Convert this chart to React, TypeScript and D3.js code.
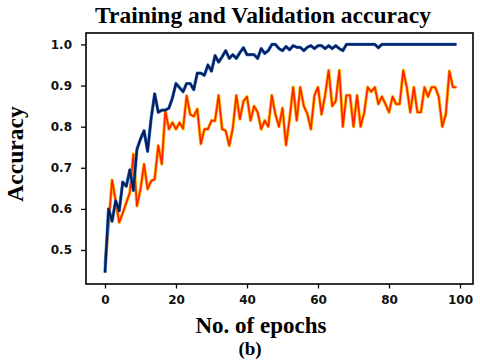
import * as d3 from "d3";
import React, { useEffect, useRef } from "react";

// training accuracy per epoch (0..99)
const trainAcc = [
  0.445, 0.6, 0.57, 0.62, 0.595, 0.665, 0.655, 0.695, 0.645, 0.745,
  0.77, 0.79, 0.74, 0.82, 0.88, 0.835, 0.84, 0.84, 0.845, 0.87,
  0.905, 0.895, 0.885, 0.905, 0.905, 0.89, 0.93, 0.93, 0.925, 0.95,
  0.935, 0.973, 0.957, 0.97, 0.985, 0.966, 0.975, 0.966, 0.98, 0.992,
  0.975, 0.975, 0.975, 0.966, 0.99, 0.978, 0.985, 1.0, 1.0, 0.99,
  0.985, 0.995, 0.987, 0.997, 0.993, 0.993, 0.985, 0.993, 0.997, 0.99,
  0.997, 0.997, 0.99, 0.997, 0.99, 0.997, 0.99, 0.985, 1.0, 1.0,
  1.0, 1.0, 1.0, 1.0, 1.0, 1.0, 1.0, 0.992, 1.0, 1.0,
  1.0, 1.0, 1.0, 1.0, 1.0, 1.0, 1.0, 1.0, 1.0, 1.0,
  1.0, 1.0, 1.0, 1.0, 1.0, 1.0, 1.0, 1.0, 1.0, 1.0,
];

// validation accuracy per epoch (0..99)
const valAcc = [
  0.465, 0.56, 0.67, 0.62, 0.567, 0.59, 0.615, 0.64, 0.733, 0.607,
  0.648, 0.709, 0.648, 0.668, 0.672, 0.754, 0.709, 0.839, 0.794, 0.81,
  0.794, 0.81, 0.795, 0.875, 0.83, 0.825, 0.843, 0.758, 0.794, 0.794,
  0.815, 0.814, 0.876, 0.794, 0.79, 0.754, 0.796, 0.876, 0.818, 0.862,
  0.873, 0.815, 0.85, 0.835, 0.794, 0.815, 0.8, 0.876, 0.83, 0.8,
  0.845, 0.755, 0.82, 0.896, 0.815, 0.896, 0.85, 0.831, 0.794, 0.876,
  0.896, 0.83, 0.876, 0.937, 0.85, 0.862, 0.937, 0.8, 0.876, 0.876,
  0.8, 0.876, 0.8, 0.834, 0.896, 0.885, 0.896, 0.855, 0.873, 0.855,
  0.835, 0.873, 0.855, 0.855, 0.937, 0.896, 0.835, 0.896, 0.835, 0.835,
  0.896, 0.873, 0.896, 0.896, 0.873, 0.8, 0.83, 0.935, 0.896, 0.896,
];

const xTicks = [0, 20, 40, 60, 80, 100];
const yTicks = [0.5, 0.6, 0.7, 0.8, 0.9, 1.0];

const App = () => {
  const svgRef = useRef<SVGSVGElement>(null);

  useEffect(() => {
    const W = 480,
      H = 363;
    const plot = { left: 86, right: 473, top: 33, bottom: 284 };

    const svg = d3.select(svgRef.current).html("");

    const x = d3.scaleLinear().domain([-5.35, 103.66]).range([plot.left, plot.right]);
    const y = d3.scaleLinear().domain([0.4173, 1.0278]).range([plot.bottom, plot.top]);

    svg.append("rect").attr("width", W).attr("height", H).attr("fill", "#fff");

    const tickFont = "'DejaVu Sans', sans-serif";

    // x axis
    const xAxis = svg
      .append("g")
      .attr("transform", `translate(0,${plot.bottom})`)
      .call(d3.axisBottom(x).tickValues(xTicks).tickSize(4.5).tickPadding(7).tickFormat(d3.format("d")));
    xAxis.select(".domain").remove();
    xAxis.selectAll("line").attr("stroke", "#000").attr("stroke-width", 1.3);
    xAxis
      .selectAll("text")
      .attr("fill", "#111")
      .style("font-family", tickFont)
      .style("font-size", "12px")
      .style("font-weight", "bold");

    // y axis
    const yAxis = svg
      .append("g")
      .attr("transform", `translate(${plot.left},0)`)
      .call(d3.axisLeft(y).tickValues(yTicks).tickSize(5).tickPadding(9).tickFormat(d3.format(".1f")));
    yAxis.select(".domain").remove();
    yAxis.selectAll("line").attr("stroke", "#000").attr("stroke-width", 1.3);
    yAxis
      .selectAll("text")
      .attr("fill", "#111")
      .style("font-family", tickFont)
      .style("font-size", "12px")
      .style("font-weight", "bold");

    const line = d3
      .line<number>()
      .x((d, i) => x(i))
      .y((d) => y(d));

    // validation line: orange halo + red core
    svg
      .append("path")
      .datum(valAcc)
      .attr("fill", "none")
      .attr("stroke", "#ffb300")
      .attr("stroke-width", 3.2)
      .attr("stroke-linejoin", "round")
      .attr("d", line);
    svg
      .append("path")
      .datum(valAcc)
      .attr("fill", "none")
      .attr("stroke", "#ff2000")
      .attr("stroke-width", 1.6)
      .attr("stroke-linejoin", "round")
      .attr("d", line);

    // training line: light blue halo + navy core
    svg
      .append("path")
      .datum(trainAcc)
      .attr("fill", "none")
      .attr("stroke", "#3a7fd0")
      .attr("stroke-width", 3.2)
      .attr("stroke-linejoin", "round")
      .attr("d", line);
    svg
      .append("path")
      .datum(trainAcc)
      .attr("fill", "none")
      .attr("stroke", "#06205e")
      .attr("stroke-width", 2.2)
      .attr("stroke-linejoin", "round")
      .attr("d", line);

    // frame
    svg
      .append("rect")
      .attr("x", plot.left)
      .attr("y", plot.top)
      .attr("width", plot.right - plot.left)
      .attr("height", plot.bottom - plot.top)
      .attr("fill", "none")
      .attr("stroke", "#000")
      .attr("stroke-width", 1.6);

    const serif = "'Liberation Serif', 'Times New Roman', serif";

    svg
      .append("text")
      .attr("x", 263)
      .attr("y", 23)
      .attr("text-anchor", "middle")
      .style("font-family", serif)
      .style("font-size", "23.5px")
      .style("font-weight", "bold")
      .text("Training and Validation accuracy");

    svg
      .append("text")
      .attr("x", 261)
      .attr("y", 333)
      .attr("text-anchor", "middle")
      .style("font-family", serif)
      .style("font-size", "23px")
      .style("font-weight", "bold")
      .text("No. of epochs");

    svg
      .append("text")
      .attr("x", 250)
      .attr("y", 355)
      .attr("text-anchor", "middle")
      .style("font-family", serif)
      .style("font-size", "19px")
      .style("font-weight", "bold")
      .text("(b)");

    svg
      .append("text")
      .attr("transform", `translate(23,154) rotate(-90)`)
      .attr("text-anchor", "middle")
      .style("font-family", serif)
      .style("font-size", "23.5px")
      .style("font-weight", "bold")
      .text("Accuracy");
  }, []);

  return (
    <div style={{ position: "absolute", left: 0, top: 0 }}>
      <svg ref={svgRef} width={480} height={363} style={{ display: "block" }} />
    </div>
  );
};

export default App;
